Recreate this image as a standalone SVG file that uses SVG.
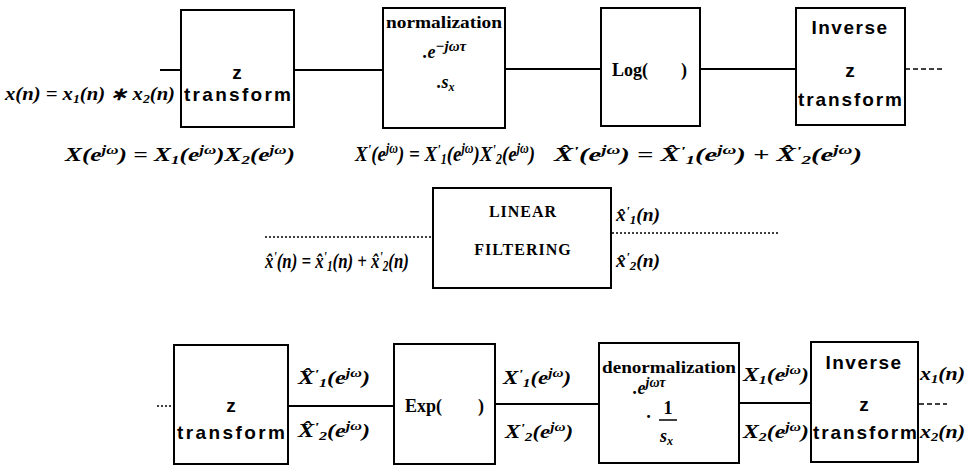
<svg xmlns="http://www.w3.org/2000/svg" width="967" height="466" viewBox="0 0 967 466">
<style>
.box{fill:#fff;stroke:#000;stroke-width:2}
.ln{stroke:#000;stroke-width:2;fill:none}
.dot{stroke:#000;stroke-width:1.5;stroke-dasharray:2,2;fill:none}
.dash{stroke:#000;stroke-width:1.5;stroke-dasharray:5,3;fill:none}
.m{font-family:"Liberation Serif",serif;font-weight:bold;font-style:italic;font-size:18px;fill:#000}
.s{font-family:"Liberation Sans",Arial,sans-serif;font-weight:bold;font-size:19px;fill:#000}
.r{font-family:"Liberation Serif",serif;font-weight:bold;font-size:16px;fill:#000}
.sub{font-size:12px;baseline-shift:-3px}
.sup{font-size:12px;baseline-shift:7px}
.pr{font-size:13px;baseline-shift:6px}
.big .sub,.big .sup{font-size:14px}
.big .pr{font-size:15px}
</style>
<rect width="967" height="466" fill="#fff"/>
<g id="connectors">
<line class="ln" x1="160" y1="70" x2="181" y2="70"/>
<line class="ln" x1="294" y1="70" x2="383" y2="70"/>
<line class="ln" x1="505" y1="69" x2="601" y2="69"/>
<line class="ln" x1="700" y1="69" x2="796" y2="69"/>
<line class="dash" x1="905" y1="69" x2="945" y2="69"/>
<line class="dot" x1="265" y1="237" x2="433" y2="237"/>
<line class="dot" x1="612" y1="233" x2="778" y2="233"/>
<line class="dot" x1="157" y1="406" x2="174" y2="406"/>
<line class="ln" x1="288" y1="406" x2="394" y2="406"/>
<line class="ln" x1="495" y1="404" x2="599" y2="404"/>
<line class="ln" x1="739" y1="403" x2="811" y2="403"/>
<line class="dash" x1="919" y1="404" x2="947" y2="404"/>
</g>
<g id="labels">
<text class="m" x="5" y="100" textLength="170" lengthAdjust="spacingAndGlyphs">x(n) = x<tspan class="sub">1</tspan>(n) ∗ x<tspan class="sub">2</tspan>(n)</text>
<text class="m" x="65" y="161" textLength="230" lengthAdjust="spacingAndGlyphs">X(e<tspan class="sup">jω</tspan>) = X<tspan class="sub">1</tspan>(e<tspan class="sup">jω</tspan>)X<tspan class="sub">2</tspan>(e<tspan class="sup">jω</tspan>)</text>
<text class="m big" transform="translate(355,161) scale(0.86,1)" style="font-size:22px">X<tspan class="pr">'</tspan>(e<tspan class="sup">jω</tspan>) = X<tspan class="pr">'</tspan><tspan class="sub">1</tspan>(e<tspan class="sup">jω</tspan>)X<tspan class="pr">'</tspan><tspan class="sub">2</tspan>(e<tspan class="sup">jω</tspan>)</text>
<text class="m" x="554" y="161" textLength="308" lengthAdjust="spacingAndGlyphs">X̂<tspan class="pr">'</tspan>(e<tspan class="sup">jω</tspan>) = X̂<tspan class="pr">'</tspan><tspan class="sub">1</tspan>(e<tspan class="sup">jω</tspan>) + X̂<tspan class="pr">'</tspan><tspan class="sub">2</tspan>(e<tspan class="sup">jω</tspan>)</text>
<text class="m big" transform="translate(265,268) scale(0.8,1)" style="font-size:21px">x̂<tspan class="pr">'</tspan>(n) = x̂<tspan class="pr">'</tspan><tspan class="sub">1</tspan>(n) + x̂<tspan class="pr">'</tspan><tspan class="sub">2</tspan>(n)</text>
<text class="m" x="616" y="221" textLength="44" lengthAdjust="spacingAndGlyphs">x̂<tspan class="pr">'</tspan><tspan class="sub">1</tspan>(n)</text>
<text class="m" x="616" y="267" textLength="44" lengthAdjust="spacingAndGlyphs">x̂<tspan class="pr">'</tspan><tspan class="sub">2</tspan>(n)</text>
<text class="m" x="298" y="384" textLength="72" lengthAdjust="spacingAndGlyphs">X̂<tspan class="pr">'</tspan><tspan class="sub">1</tspan>(e<tspan class="sup">jω</tspan>)</text>
<text class="m" x="298" y="437" textLength="72" lengthAdjust="spacingAndGlyphs">X̂<tspan class="pr">'</tspan><tspan class="sub">2</tspan>(e<tspan class="sup">jω</tspan>)</text>
<text class="m" x="503" y="384" textLength="68" lengthAdjust="spacingAndGlyphs">X<tspan class="pr">'</tspan><tspan class="sub">1</tspan>(e<tspan class="sup">jω</tspan>)</text>
<text class="m" x="505" y="438" textLength="68" lengthAdjust="spacingAndGlyphs">X<tspan class="pr">'</tspan><tspan class="sub">2</tspan>(e<tspan class="sup">jω</tspan>)</text>
<text class="m" x="743" y="381" textLength="66" lengthAdjust="spacingAndGlyphs">X<tspan class="sub">1</tspan>(e<tspan class="sup">jω</tspan>)</text>
<text class="m" x="743" y="438" textLength="66" lengthAdjust="spacingAndGlyphs">X<tspan class="sub">2</tspan>(e<tspan class="sup">jω</tspan>)</text>
<text class="m" x="920" y="380" textLength="45" lengthAdjust="spacingAndGlyphs">x<tspan class="sub">1</tspan>(n)</text>
<text class="m" x="920" y="438" textLength="45" lengthAdjust="spacingAndGlyphs">x<tspan class="sub">2</tspan>(n)</text>
</g>
<g id="ztransform1">
<rect class="box" x="181" y="10" width="113" height="117"/>
<text class="s" x="237" y="79" text-anchor="middle">z</text>
<text class="s" x="184" y="101" textLength="107" lengthAdjust="spacing">transform</text>
</g>
<g id="normalization">
<rect class="box" x="383" y="8" width="122" height="120"/>
<text class="r" x="386" y="28" textLength="116" lengthAdjust="spacingAndGlyphs">normalization</text>
<text class="m" x="423" y="58">.e<tspan class="sup" style="font-size:15px">−jωτ</tspan></text>
<text class="m" x="437" y="88">.s<tspan class="sub">x</tspan></text>
</g>
<g id="log">
<rect class="box" x="601" y="8" width="99" height="118"/>
<text class="r" x="612" y="76" style="font-size:18px">Log(</text>
<text class="r" x="681" y="76" style="font-size:18px">)</text>
</g>
<g id="inverse1">
<rect class="box" x="796" y="8" width="109" height="117"/>
<text class="s" x="850" y="34" text-anchor="middle" letter-spacing="1.5">Inverse</text>
<text class="s" x="850" y="77" text-anchor="middle">z</text>
<text class="s" x="798" y="106" textLength="104" lengthAdjust="spacing">transform</text>
</g>
<g id="linearfiltering">
<rect class="box" x="433" y="188" width="178" height="100"/>
<text class="r" x="523" y="217" text-anchor="middle" letter-spacing="1">LINEAR</text>
<text class="r" x="523" y="255" text-anchor="middle" letter-spacing="1">FILTERING</text>
</g>
<g id="ztransform2">
<rect class="box" x="174" y="345" width="114" height="119"/>
<text class="s" x="231" y="412" text-anchor="middle">z</text>
<text class="s" x="177" y="439" textLength="108" lengthAdjust="spacing">transform</text>
</g>
<g id="exp">
<rect class="box" x="394" y="344" width="101" height="120"/>
<text class="r" x="405" y="412" style="font-size:18px">Exp(</text>
<text class="r" x="478" y="412" style="font-size:18px">)</text>
</g>
<g id="denormalization">
<rect class="box" x="599" y="343" width="140" height="120"/>
<text class="r" x="602" y="373" textLength="134" lengthAdjust="spacingAndGlyphs">denormalization</text>
<text class="m" x="633" y="394">.e<tspan class="sup" style="font-size:14px">jωτ</tspan></text>
<text class="m" x="647" y="418">.</text>
<text class="r" x="668" y="414" text-anchor="middle" style="font-size:18px">1</text>
<line x1="659" y1="420" x2="677" y2="420" stroke="#000" stroke-width="1.5"/>
<text class="m" x="660" y="442">s<tspan class="sub">x</tspan></text>
</g>
<g id="inverse2">
<rect class="box" x="811" y="342" width="107" height="120"/>
<text class="s" x="864" y="369" text-anchor="middle" letter-spacing="1.5">Inverse</text>
<text class="s" x="864" y="411" text-anchor="middle">z</text>
<text class="s" x="813" y="439" textLength="104" lengthAdjust="spacing">transform</text>
</g>
</svg>
